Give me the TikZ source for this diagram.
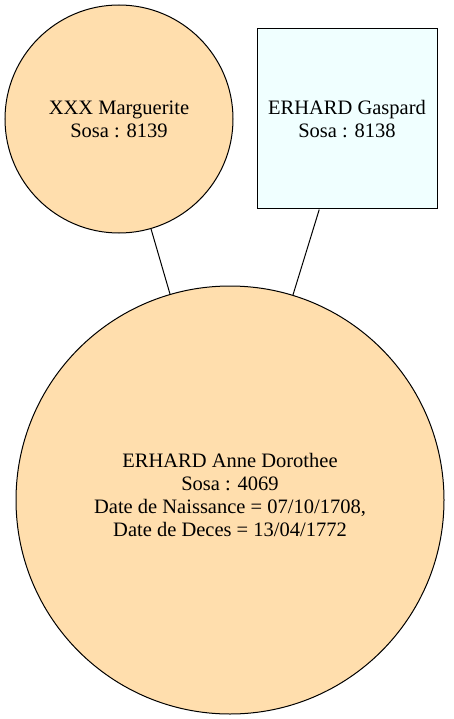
\documentclass[tikz,border=0pt]{standalone}
\usepackage{fontspec}
\setmainfont{Liberation Serif}
\definecolor{navajo}{HTML}{FFDEAD}
\definecolor{azurec}{HTML}{F0FFFF}
\begin{document}
\begin{tikzpicture}[x=1pt,y=-1pt,
  person/.style={draw=black,line width=1pt,inner sep=0pt,align=center,
    font=\fontsize{20.5}{23}\selectfont},
  female/.style={person,circle,fill=navajo},
  male/.style={person,rectangle,fill=azurec},
  link/.style={draw=black,line width=1pt}]
\useasboundingbox (0,0) rectangle (454,719);
\node[female,minimum size=228pt] (m) at (119,119) {XXX Marguerite\\Sosa : 8139};
\node[male,minimum width=180pt,minimum height=180pt] (g) at (347,119) {ERHARD Gaspard\\Sosa : 8138};
\node[female,minimum size=428pt] (a) at (230,500) {\raisebox{3pt}[\height][\depth]{\begin{tabular}{@{}c@{}}ERHARD Anne Dorothee\\Sosa : 4069\\Date de Naissance = 07/10/1708,\\Date de Deces = 13/04/1772\end{tabular}}};
\draw[link] (m) -- (a);
\draw[link] (g) -- (a);
\end{tikzpicture}
\end{document}
